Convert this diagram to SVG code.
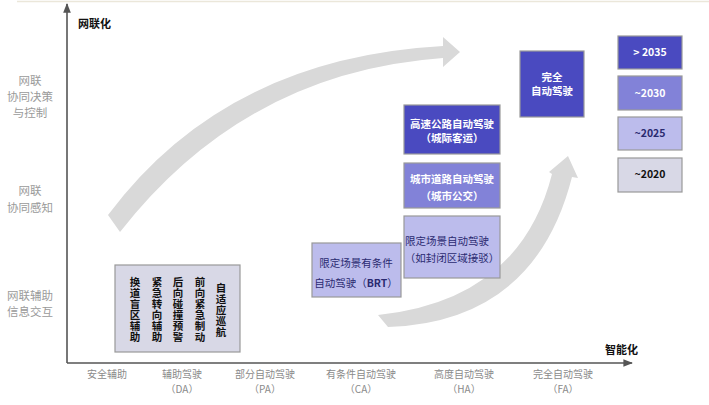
<svg xmlns="http://www.w3.org/2000/svg" width="709" height="405" viewBox="0 0 709 405">
<defs>
<style>
text{font-family:"Noto Sans CJK SC","Liberation Sans",sans-serif;}
.side{font-size:11.5px;fill:#9a9a9a;text-anchor:middle;}
.xl{font-size:10px;fill:#8a8a8a;text-anchor:middle;}
.ax{font-size:11px;fill:#111;font-weight:bold;}
.box{stroke:#999;stroke-width:1.2;}
.dark{fill:#4a4ac0;}
.mid{fill:#8282d8;}
.light{fill:#bcbcec;}
.gray{fill:#d8d8e6;}
.wt{font-size:10.5px;fill:#fff;font-weight:bold;text-anchor:middle;}
.nt{font-size:10.5px;fill:#2a2a70;text-anchor:middle;}
.vt{font-size:10.5px;fill:#111;font-weight:bold;text-anchor:middle;writing-mode:vertical-rl;letter-spacing:0.5px;}
.lg{font-size:10.5px;font-weight:bold;text-anchor:middle;}
</style>
<marker id="ah" viewBox="0 0 10 10" refX="9" refY="5" markerWidth="6" markerHeight="6" orient="auto-start-reverse"><path d="M0,1 L10,5 L0,9 Z" fill="#555"/></marker>
</defs>
<rect width="709" height="405" fill="#fff"/>
<line x1="17" y1="1.5" x2="709" y2="1.5" stroke="#ebe7da" stroke-width="1.5"/>

<g id="arrows-bg" fill="#d9d9d9">
<path d="M108,215 Q225,58 443,46 L443,37 L460,52 L443,67 L443,58 Q245,72 120,232 Z"/>
<path d="M378,315 Q520,300 552,174 L549,172 L568,156 L578,178 L572,177 Q535,322 388,327 Z"/>
</g>

<g id="connectors">
<line x1="67" y1="363" x2="67" y2="4" stroke="#555" stroke-width="1.6" marker-end="url(#ah)"/>
<line x1="67" y1="363" x2="632" y2="363" stroke="#555" stroke-width="1.6" marker-end="url(#ah)"/>
</g>

<g id="axis-labels">
<text class="ax" x="78" y="28">网联化</text>
<text class="ax" x="605" y="354">智能化</text>
</g>

<g id="y-labels">
<text class="side" x="30" y="85">网联</text>
<text class="side" x="30" y="101">协同决策</text>
<text class="side" x="30" y="117">与控制</text>
<text class="side" x="30" y="195">网联</text>
<text class="side" x="30" y="212">协同感知</text>
<text class="side" x="30" y="300">网联辅助</text>
<text class="side" x="30" y="316">信息交互</text>
</g>

<g id="x-labels">
<text class="xl" x="107" y="378">安全辅助</text>
<text class="xl" x="182" y="378">辅助驾驶</text>
<text class="xl" x="182" y="393">（DA）</text>
<text class="xl" x="265" y="378">部分自动驾驶</text>
<text class="xl" x="265" y="393">（PA）</text>
<text class="xl" x="361" y="378">有条件自动驾驶</text>
<text class="xl" x="361" y="393">（CA）</text>
<text class="xl" x="464" y="378">高度自动驾驶</text>
<text class="xl" x="464" y="393">（HA）</text>
<text class="xl" x="563" y="378">完全自动驾驶</text>
<text class="xl" x="563" y="393">（FA）</text>
</g>

<g id="node-da">
<rect class="box gray" x="115" y="265" width="125" height="87"/>
<text class="vt" x="135" y="310">换道盲区辅助</text>
<text class="vt" x="157" y="310">紧急转向辅助</text>
<text class="vt" x="178" y="310">后向碰撞预警</text>
<text class="vt" x="200" y="310">前向紧急制动</text>
<text class="vt" x="221" y="310">自适应巡航</text>
</g>

<g id="node-brt">
<rect class="box light" x="312" y="243" width="89" height="54"/>
<text class="nt" x="356" y="267">限定场景有条件</text>
<text class="nt" x="356" y="287">自动驾驶（<tspan font-weight="bold">BRT</tspan>）</text>
</g>

<g id="node-closed">
<rect class="box light" x="404" y="216" width="96" height="62"/>
<text class="nt" x="447" y="245">限定场景自动驾驶</text>
<text class="nt" x="452" y="262">（如封闭区域接驳）</text>
</g>

<g id="node-city">
<rect class="box mid" x="404" y="163" width="96" height="45"/>
<text class="wt" x="452" y="183">城市道路自动驾驶</text>
<text class="wt" x="452" y="200">（城市公交）</text>
</g>

<g id="node-highway">
<rect class="box dark" x="404" y="105" width="96" height="49"/>
<text class="wt" x="452" y="128">高速公路自动驾驶</text>
<text class="wt" x="452" y="142">（城际客运）</text>
</g>

<g id="node-full">
<rect class="box dark" x="520" y="51" width="64" height="66"/>
<text class="wt" x="552" y="81">完全</text>
<text class="wt" x="552" y="95">自动驾驶</text>
</g>

<g id="legend">
<g id="lg-2035"><rect class="box dark" x="618" y="36" width="64" height="33"/><text class="lg" x="650" y="56" fill="#fff">&gt; 2035</text></g>
<g id="lg-2030"><rect class="box mid" x="618" y="76" width="64" height="34"/><text class="lg" x="650" y="97" fill="#fff">~2030</text></g>
<g id="lg-2025"><rect class="box light" x="618" y="117" width="64" height="33"/><text class="lg" x="650" y="137" fill="#2a2a70">~2025</text></g>
<g id="lg-2020"><rect class="box gray" x="618" y="158" width="64" height="34"/><text class="lg" x="650" y="178" fill="#111">~2020</text></g>
</g>
</svg>
